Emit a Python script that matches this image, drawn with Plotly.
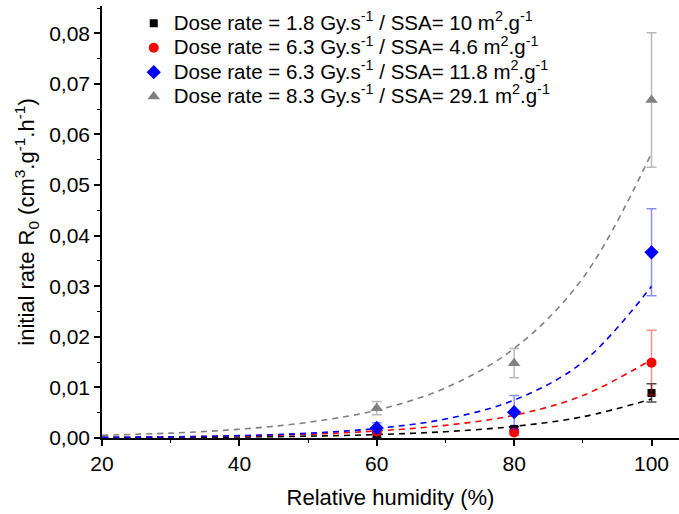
import plotly.graph_objects as go

# Measured points
rh = [60, 80, 100]
black_y = [0.0004, 0.0018, 0.0089]
black_err = [0.0003, 0.0004, 0.0018]
red_y = [0.0013, 0.0011, 0.0149]
red_err = [0.0006, 0.0005, 0.0064]
blue_y = [0.0020, 0.0051, 0.0367]
blue_err = [0.0010, 0.0033, 0.0086]
gray_y = [0.0059, 0.0148, 0.0668]
gray_err = [0.0013, 0.0029, 0.0133]

# Fitted curves
fit_x = [20, 30, 40, 50, 60, 70, 80, 90, 100]
black_fit = [0.00006, 0.00011, 0.0002, 0.00037, 0.00068, 0.00125, 0.0023, 0.0042, 0.0077]
red_fit = [0.00012, 0.00022, 0.0004, 0.00075, 0.0014, 0.0025, 0.0045, 0.0084, 0.0155]
blue_fit = [0.00012, 0.00023, 0.00047, 0.00094, 0.0019, 0.00375, 0.0075, 0.015, 0.030]
gray_fit = [0.00054, 0.00097, 0.00173, 0.0031, 0.0055, 0.0099, 0.0177, 0.0316, 0.0563]

names = [
    "Dose rate = 1.8 Gy.s<sup>-1</sup> / SSA= 10 m<sup>2</sup>.g<sup>-1</sup>",
    "Dose rate = 6.3 Gy.s<sup>-1</sup> / SSA= 4.6 m<sup>2</sup>.g<sup>-1</sup>",
    "Dose rate = 6.3 Gy.s<sup>-1</sup> / SSA= 11.8 m<sup>2</sup>.g<sup>-1</sup>",
    "Dose rate = 8.3 Gy.s<sup>-1</sup> / SSA= 29.1 m<sup>2</sup>.g<sup>-1</sup>",
]

series = [
    (black_y, black_err, black_fit, "#000000", "rgba(0,0,0,0.7)", "square", 8),
    (red_y, red_err, red_fit, "#FF0000", "rgba(255,0,0,0.45)", "circle", 10),
    (blue_y, blue_err, blue_fit, "#0000FF", "rgba(0,0,255,0.45)", "diamond", 11),
    (gray_y, gray_err, gray_fit, "#808080", "rgba(128,128,128,0.55)", "triangle-up", 11),
]

fig = go.Figure()

# fit lines first (drawn beneath the markers)
for (y, e, fit, col, ecol, sym, sz) in series:
    fig.add_trace(go.Scatter(
        x=fit_x, y=fit, mode="lines", showlegend=False, hoverinfo="skip",
        line=dict(color=col, width=1.6, dash="6px,5px", shape="spline"),
    ))

for name, (y, e, fit, col, ecol, sym, sz) in zip(names, series):
    fig.add_trace(go.Scatter(
        x=rh, y=y, mode="markers",
        name='<span style="font-size:20.5px">' + name + "</span>",
        marker=dict(color=col, symbol=sym, size=sz, line=dict(width=0)),
        error_y=dict(type="data", array=e, visible=True, color=ecol, thickness=1.5, width=5),
    ))

fig.update_layout(
    width=679, height=514,
    margin=dict(l=102, r=0, t=6, b=76),
    paper_bgcolor="white", plot_bgcolor="white",
    separators=", ",
    font=dict(family="Liberation Sans, Arial, sans-serif", size=20, color="black"),
    legend=dict(
        x=0.055, y=1.0, xanchor="left", yanchor="top",
        bgcolor="rgba(0,0,0,0)", font=dict(size=16.5),
        tracegroupgap=0, itemwidth=30,
    ),
    xaxis=dict(
        range=[20, 104], showgrid=False, zeroline=False,
        showline=True, linecolor="black", linewidth=1.5,
        ticks="outside", ticklen=6, tickwidth=1.5, tickcolor="black",
        tickmode="array", tickvals=[20, 40, 60, 80, 100],
        minor=dict(ticks="outside", ticklen=3, tickwidth=1.2, tickcolor="black", dtick=10, tick0=20),
        title=dict(text="Relative humidity (%)", font=dict(size=22), standoff=16),
        tickfont=dict(size=21),
    ),
    yaxis=dict(
        range=[0, 0.0854], showgrid=False, zeroline=False,
        showline=True, linecolor="black", linewidth=1.5,
        ticks="outside", ticklen=6, tickwidth=1.5, tickcolor="black",
        dtick=0.01, tick0=0, tickformat=".2f",
        minor=dict(ticks="outside", ticklen=3, tickwidth=1.2, tickcolor="black", dtick=0.005, tick0=0),
        title=dict(text="initial rate R<sub>0</sub> (cm<sup>3</sup>.g<sup>-1</sup>.h<sup>-1</sup>)",
                   font=dict(size=22), standoff=8),
        tickfont=dict(size=21),
    ),
)

fig.write_html("out.html")
